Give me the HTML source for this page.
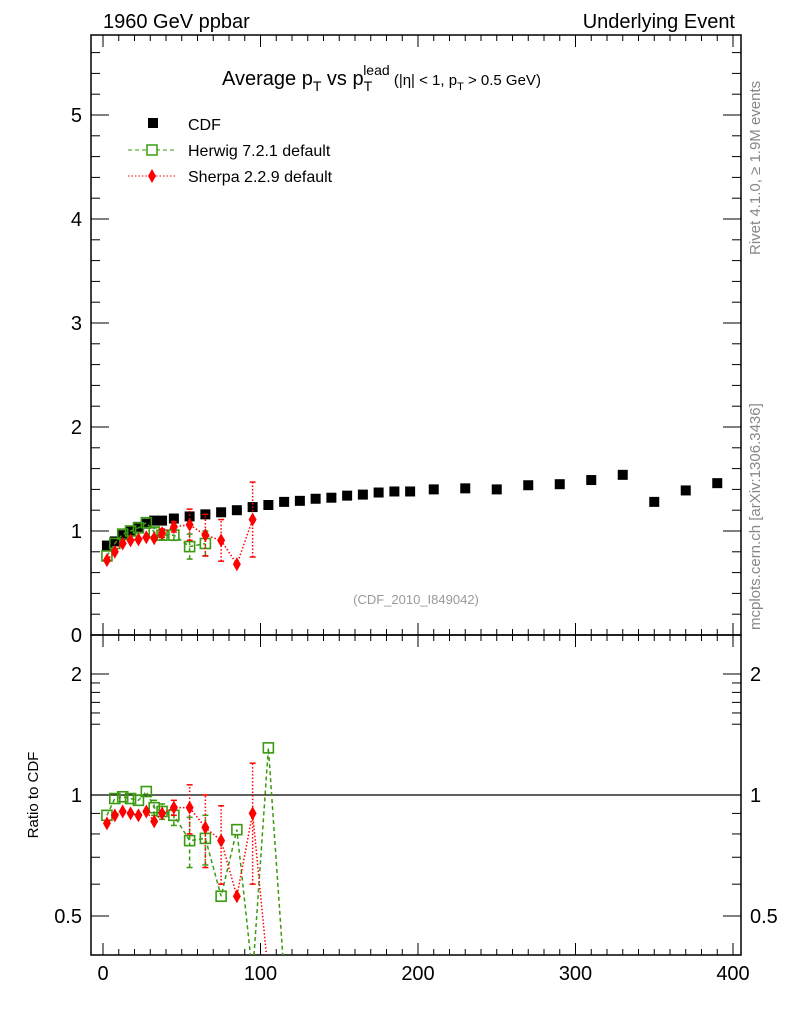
<!DOCTYPE html>
<html><head><meta charset="utf-8">
<style>
body{margin:0;background:#fff;}
svg{display:block;font-family:"Liberation Sans",sans-serif;}
</style></head>
<body>
<svg id="chart" width="786" height="1024" viewBox="0 0 786 1024">
<text x="103" y="28" font-size="20">1960 GeV ppbar</text>
<text x="735" y="28" font-size="20" text-anchor="end">Underlying Event</text>
<text x="222" y="85" font-size="20">Average p<tspan font-size="14" dy="6">T</tspan><tspan dy="-6"> vs p</tspan><tspan font-size="14" dy="6">T</tspan><tspan font-size="14" dx="-9" dy="-16">lead</tspan><tspan font-size="15" dy="10"> (|η| &lt; 1, p</tspan><tspan font-size="11" dy="5">T</tspan><tspan font-size="15" dy="-5"> &gt; 0.5 GeV)</tspan></text>
<text x="416" y="604" font-size="13" fill="#999" text-anchor="middle">(CDF_2010_I849042)</text>
<text transform="translate(760,255) rotate(-90)" font-size="15" fill="#888">Rivet 4.1.0, ≥ 1.9M events</text>
<text transform="translate(760,630) rotate(-90)" font-size="15" fill="#888">mcplots.cern.ch [arXiv:1306.3436]</text>
<text transform="translate(38,795) rotate(-90)" font-size="15" text-anchor="middle">Ratio to CDF</text>
<g id="legend">
<rect x="148" y="118" width="10" height="10" fill="#000"/>
<text x="188" y="130" font-size="16">CDF</text>
<line x1="128" y1="150" x2="176" y2="150" stroke="#3a9a10" stroke-dasharray="4,3"/>
<rect x="147" y="145" width="10" height="10" fill="#fff" stroke="#3a9a10" stroke-width="1.5"/>
<text x="188" y="156" font-size="16">Herwig 7.2.1 default</text>
<line x1="128" y1="176" x2="176" y2="176" stroke="#f00" stroke-dasharray="1.5,2"/>
<polygon points="152,169 156,176 152,183 148,176" fill="#f00"/>
<text x="188" y="182" font-size="16">Sherpa 2.2.9 default</text>
</g>
</svg>
<script>
const cdfX=[2.5,7.5,12.5,17.5,22.5,27.5,32.5,37.5,45,55,65,75,85,95,105,115,125,135,145,155,165,175,185,195,210,230,250,270,290,310,330,350,370,390];
const cdfY=[0.86,0.9,0.96,1.0,1.04,1.07,1.1,1.1,1.12,1.14,1.16,1.18,1.2,1.23,1.25,1.28,1.29,1.31,1.32,1.34,1.35,1.37,1.38,1.38,1.4,1.41,1.4,1.44,1.45,1.49,1.54,1.28,1.39,1.46];
const hwX=[2.5,7.5,12.5,17.5,22.5,27.5,32.5,37.5,45,55,65];
const hwY=[0.76,0.88,0.97,1.0,1.03,1.08,0.99,0.96,0.96,0.85,0.88];
const hwErr=[0.02,0.02,0.02,0.02,0.03,0.03,0.04,0.04,0.05,0.12,0.12];
const shX=[2.5,7.5,12.5,17.5,22.5,27.5,32.5,37.5,45,55,65,75,85,95];
const shY=[0.72,0.8,0.88,0.91,0.92,0.94,0.93,0.98,1.04,1.06,0.96,0.91,0.68,1.11];
const shErr=[0.02,0.02,0.02,0.02,0.02,0.03,0.03,0.04,0.05,0.15,0.2,0.2,0.02,0.36];
const hwRX=[2.5,7.5,12.5,17.5,22.5,27.5,32.5,37.5,45,55,65,75,85,95,105,115];
const hwR=[0.89,0.98,0.99,0.98,0.97,1.02,0.93,0.91,0.89,0.77,0.78,0.56,0.82,0.05,1.31,0.05];
const hwRErr=[0.02,0.02,0.02,0.02,0.02,0.03,0.04,0.04,0.05,0.11,0.11,0.02,0.02,0,0.02,0];
const shRX=[2.5,7.5,12.5,17.5,22.5,27.5,32.5,37.5,45,55,65,75,85,95,105];
const shR=[0.85,0.89,0.91,0.9,0.89,0.91,0.86,0.9,0.93,0.93,0.83,0.77,0.56,0.9,0.05];
const shRErr=[0.02,0.02,0.02,0.02,0.02,0.03,0.03,0.03,0.04,0.13,0.17,0.17,0.02,0.3,0];
const xTicks=[0,100,200,300,400];
const yTicks=[0,1,2,3,4,5];
const rTicks=[0.5,1,2];

const NS='http://www.w3.org/2000/svg';
const svg=document.getElementById('chart');
const L=91,R=741,T=35,MB=635,RB=955;
const sx=v=>103+v*1.575;
const sy=v=>635-v*104;
const sr=v=>{if(v<=0.3)return 975;return 795-121*Math.log2(v);};
function mk(tag,attrs,parent){const e=document.createElementNS(NS,tag);for(const k in attrs)e.setAttribute(k,attrs[k]);(parent||svg).appendChild(e);return e;}

const defs=mk('defs',{});
const c1=mk('clipPath',{id:'cm'},defs);mk('rect',{x:L,y:T,width:R-L,height:MB-T},c1);
const c2=mk('clipPath',{id:'cr'},defs);mk('rect',{x:L,y:MB,width:R-L,height:RB-MB},c2);

const axes=mk('g',{});


const f1=mk('rect',{x:L,y:T,width:R-L,height:MB-T,fill:'none',stroke:'#000','stroke-width':1.5},axes);


const f2=mk('rect',{x:L,y:MB,width:R-L,height:RB-MB,fill:'none',stroke:'#000','stroke-width':1.5},axes);


for(let v=0;v<=410;v+=10){const X=sx(v);if(X>R)break;const major=v%100===0;const len=major?12:6;
 for(const yb of [MB,RB]){mk('line',{x1:X,y1:yb,x2:X,y2:yb-len,stroke:'#000'},axes);}
 for(const yt of [T,MB]){mk('line',{x1:X,y1:yt,x2:X,y2:yt+len,stroke:'#000'},axes);}}
xTicks.forEach(v=>{const t=mk('text',{x:sx(v),y:980,'font-size':20,'text-anchor':'middle'},axes);t.textContent=v;

});
for(let i=0;i<=28;i++){const v=i*0.2;const Y=sy(v);if(Y<T)break;const major=i%5===0;const len=major?18:9;
 mk('line',{x1:L,y1:Y,x2:L+len,y2:Y,stroke:'#000'},axes);mk('line',{x1:R,y1:Y,x2:R-len,y2:Y,stroke:'#000'},axes);}
yTicks.forEach(v=>{const t=mk('text',{x:82,y:sy(v)+7,'font-size':20,'text-anchor':'end'},axes);t.textContent=v;

});
[0.5,0.6,0.7,0.8,0.9,1,2].forEach(v=>{const Y=sr(v);const major=rTicks.includes(v);const len=major?18:9;
 mk('line',{x1:L,y1:Y,x2:L+len,y2:Y,stroke:'#000'},axes);mk('line',{x1:R,y1:Y,x2:R-len,y2:Y,stroke:'#000'},axes);});
[0.4,1.5,1.6,1.7,1.8,1.9].forEach(v=>{const Y=sr(v);mk('line',{x1:L,y1:Y,x2:L+9,y2:Y,stroke:'#000'},axes);mk('line',{x1:R,y1:Y,x2:R-9,y2:Y,stroke:'#000'},axes);});
rTicks.forEach(v=>{const t=mk('text',{x:82,y:sr(v)+7,'font-size':20,'text-anchor':'end'},axes);t.textContent=v;


const t2=mk('text',{x:750,y:sr(v)+7,'font-size':20},axes);t2.textContent=v;

});
const ref=mk('line',{x1:L,y1:sr(1),x2:R,y2:sr(1),stroke:'#000','stroke-width':1.2},axes);



function series(xs,ys,errs,fx,fy,color,dash,marker,clip,name){
 const g=mk('g',{'clip-path':'url(#'+clip+')'});
 
 
 if(dash){mk('polyline',{points:xs.map((x,i)=>fx(x)+','+fy(ys[i])).join(' '),fill:'none',stroke:color,'stroke-width':1.5,'stroke-dasharray':dash},g);}
 xs.forEach((x,i)=>{const X=fx(x),Y=fy(ys[i]);
  if(errs&&errs[i]>0.03){const lo=fy(ys[i]-errs[i]),hi=fy(ys[i]+errs[i]);
   mk('line',{x1:X,y1:lo,x2:X,y2:hi,stroke:color,'stroke-width':1.5,'stroke-dasharray':dash||''},g);
   mk('line',{x1:X-3,y1:lo,x2:X+3,y2:lo,stroke:color,'stroke-width':1.5},g);
   mk('line',{x1:X-3,y1:hi,x2:X+3,y2:hi,stroke:color,'stroke-width':1.5},g);}
  let m;
  if(marker==='sq') m=mk('rect',{x:X-5,y:Y-5,width:10,height:10,fill:'#000'},g);
  else if(marker==='osq') m=mk('rect',{x:X-5,y:Y-5,width:10,height:10,fill:'#fff','fill-opacity':0,stroke:color,'stroke-width':1.6},g);
  else m=mk('polygon',{points:`${X},${Y-7} ${X+4},${Y} ${X},${Y+7} ${X-4},${Y}`,fill:color},g);
  
  
 });
}
series(cdfX,cdfY,null,sx,sy,'#000',null,'sq','cm','cdf-series');
series(hwX,hwY,hwErr,sx,sy,'#3a9a10','4,3','osq','cm','herwig-series');
series(shX,shY,shErr,sx,sy,'#f00','1.5,2','dia','cm','sherpa-series');
series(hwRX,hwR,hwRErr,sx,sr,'#3a9a10','4,3','osq','cr','herwig-ratio');
series(shRX,shR,shRErr,sx,sr,'#f00','1.5,2','dia','cr','sherpa-ratio');
</script>
</body></html>
